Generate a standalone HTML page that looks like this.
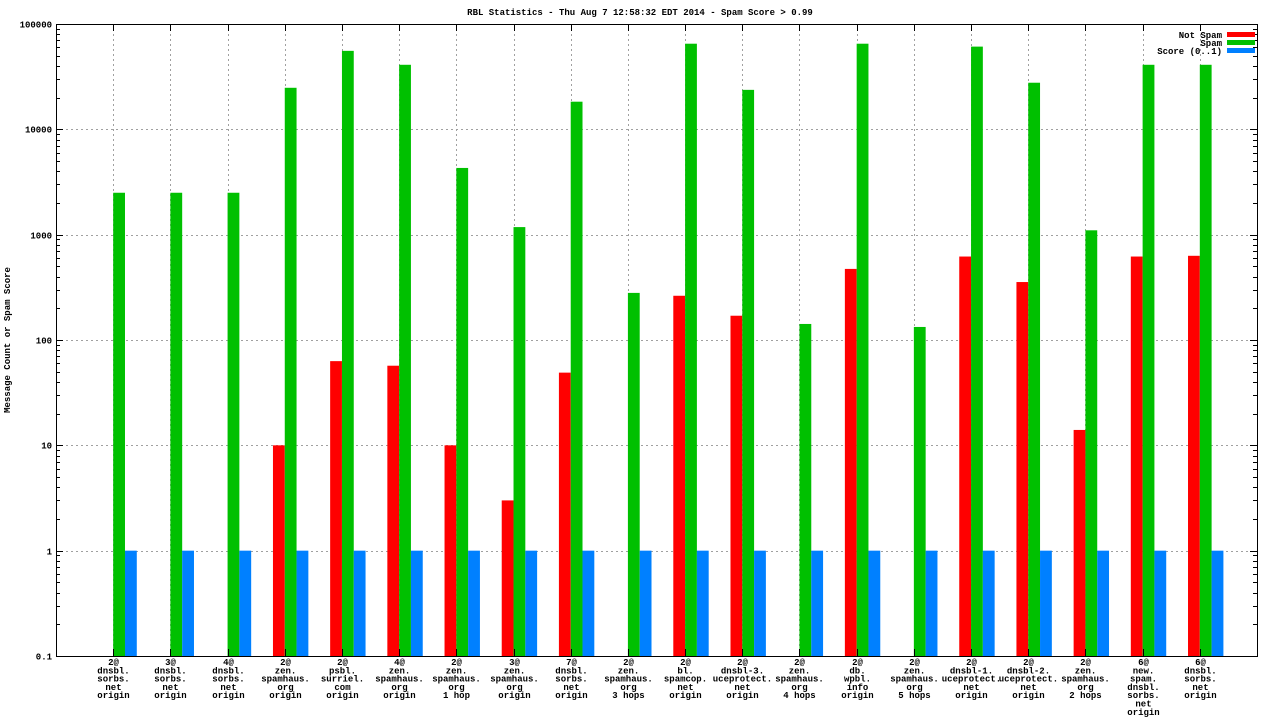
<!DOCTYPE html>
<html><head><meta charset="utf-8">
<style>
html,body{margin:0;padding:0;background:#fff;}
svg{display:block;font-family:"Liberation Mono",monospace;}
svg text{font-weight:bold;}
</style></head>
<body>
<svg id="chart" width="1280" height="720"></svg>
<script>
const categories = [
 ["2@","dnsbl.","sorbs.","net","origin"],
 ["3@","dnsbl.","sorbs.","net","origin"],
 ["4@","dnsbl.","sorbs.","net","origin"],
 ["2@","zen.","spamhaus.","org","origin"],
 ["2@","psbl.","surriel.","com","origin"],
 ["4@","zen.","spamhaus.","org","origin"],
 ["2@","zen.","spamhaus.","org","1 hop"],
 ["3@","zen.","spamhaus.","org","origin"],
 ["7@","dnsbl.","sorbs.","net","origin"],
 ["2@","zen.","spamhaus.","org","3 hops"],
 ["2@","bl.","spamcop.","net","origin"],
 ["2@","dnsbl-3.","uceprotect.","net","origin"],
 ["2@","zen.","spamhaus.","org","4 hops"],
 ["2@","db.","wpbl.","info","origin"],
 ["2@","zen.","spamhaus.","org","5 hops"],
 ["2@","dnsbl-1.","uceprotect.","net","origin"],
 ["2@","dnsbl-2.","uceprotect.","net","origin"],
 ["2@","zen.","spamhaus.","org","2 hops"],
 ["6@","new.","spam.","dnsbl.","sorbs.","net","origin"],
 ["6@","dnsbl.","sorbs.","net","origin"]
];
const notSpam = [null,null,null,10,63,57,10,3,49,null,263,170,null,473,null,620,355,14,620,630];
const spam = [2500,2500,2500,24800,55600,41000,4300,1180,18300,280,65000,23700,142,65000,133,61000,27700,1100,41000,41000];
const score = [1,1,1,1,1,1,1,1,1,1,1,1,1,1,1,1,1,1,1,1];
const yTicks = [0.1,1,10,100,1000,10000,100000];
const yTickLabels = ["0.1","1","10","100","1000","10000","100000"];

const NS="http://www.w3.org/2000/svg";
const svg=document.getElementById('chart');
const L=56,R=1257,T=24,B=656;
const yMinL=-1,yMaxL=5;
function y(v){return B-(Math.log10(v)-yMinL)/(yMaxL-yMinL)*(B-T);}
const step=(R-L)/(categories.length+1);
function xc(i){return L+step*(i+1);}
function mk(tag,attrs,parent){const e=document.createElementNS(NS,tag);for(const k in attrs)e.setAttribute(k,attrs[k]);(parent||svg).appendChild(e);return e;}

let t=mk('text',{x:640,y:15,'font-size':9,'text-anchor':'middle'});


t.textContent="RBL Statistics - Thu Aug  7 12:58:32 EDT 2014 - Spam Score > 0.99";

t=mk('text',{x:10,y:340,'font-size':9,'text-anchor':'middle',transform:'rotate(-90 10 340)'});


t.textContent="Message Count or Spam Score";

const grid=mk('g',{stroke:'#a0a0a0','stroke-width':1,'stroke-dasharray':'2,3'});


yTicks.forEach((v,i)=>{const yy=Math.round(y(v))+0.5;if(i>0&&i<yTicks.length-1)mk('line',{x1:L,x2:R,y1:yy,y2:yy},grid);});
categories.forEach((c,i)=>{const xx=Math.round(xc(i))+0.5;mk('line',{x1:xx,x2:xx,y1:T,y2:B},grid);});

const bars=mk('g',{});


const bw=11.8;
function bar(v,x0,col,name){if(v==null)return;const yy=y(v);const r=mk('rect',{x:x0,y:yy,width:bw,height:B-yy,fill:col},bars);

}
categories.forEach((c,i)=>{const cx=xc(i);
 bar(notSpam[i],cx-bw,'#ff0000','bar-not-spam');
 bar(spam[i],cx,'#00c000','bar-spam');
 bar(score[i],cx+bw,'#0080ff','bar-score');
});

const fr=mk('rect',{x:L+0.5,y:T+0.5,width:R-L,height:B-T,fill:'none',stroke:'#000','stroke-width':1});



const yt=mk('g',{stroke:'#000'});


yTicks.forEach((v,i)=>{const yy=Math.round(y(v))+0.5;
 mk('line',{x1:L,x2:L+7,y1:yy,y2:yy},yt);mk('line',{x1:R-7,x2:R,y1:yy,y2:yy},yt);
 const tx=mk('text',{x:L-4,y:yy+3,'font-size':9,'text-anchor':'end',stroke:'none',fill:'#000'},yt);
 
 
 tx.textContent=yTickLabels[i];
 if(i<yTicks.length-1){for(let m=2;m<=9;m++){const my=Math.round(y(v*m))+0.5;mk('line',{x1:L,x2:L+4,y1:my,y2:my},yt);mk('line',{x1:R-4,x2:R,y1:my,y2:my},yt);}}
});
categories.forEach((c,i)=>{const xx=Math.round(xc(i))+0.5;
 mk('line',{x1:xx,x2:xx,y1:B,y2:B-7,stroke:'#000'});
 mk('line',{x1:xx,x2:xx,y1:T,y2:T+7,stroke:'#000'});
 const g=mk('text',{'font-size':9,'text-anchor':'middle'});
 
 
 c.forEach((ln,j)=>{const s=mk('tspan',{x:xx,y:665+j*8.3},g);s.textContent=ln;});
});

const lg=mk('g',{});


[["Not Spam","#ff0000"],["Spam","#00c000"],["Score (0..1)","#0080ff"]].forEach((e,i)=>{
 const yy=35+i*8;
 const tx=mk('text',{x:1222,y:yy+3,'font-size':9,'text-anchor':'end'},lg);
 
 
 tx.textContent=e[0];
 mk('rect',{x:1227,y:yy-3,width:28,height:5,fill:e[1]},lg);
});
</script>
</body></html>
